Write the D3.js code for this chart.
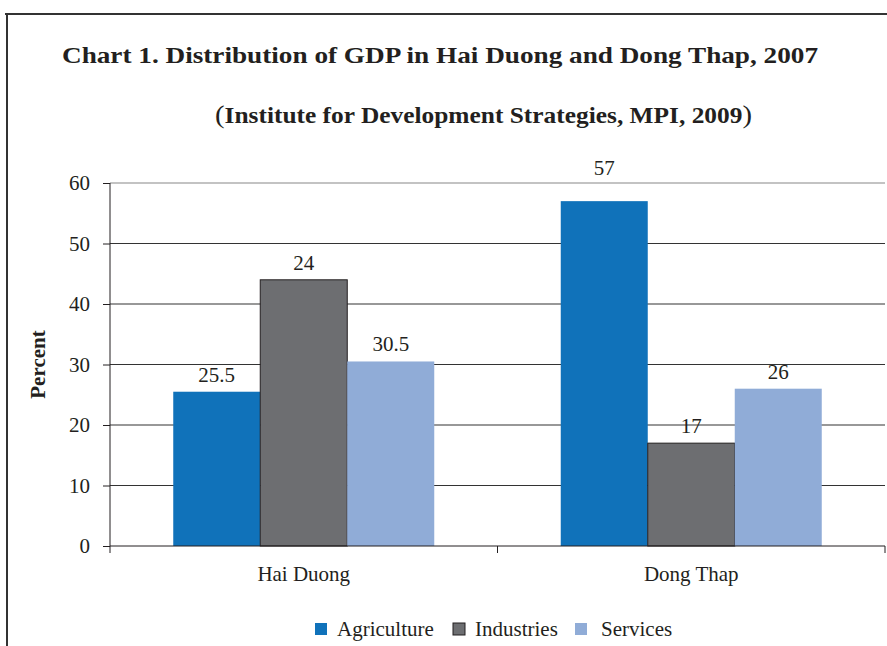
<!DOCTYPE html>
<html>
<head>
<meta charset="utf-8">
<script src="https://cdn.jsdelivr.net/npm/d3@7"></script>
<style>
  html, body { margin: 0; padding: 0; background: #fff; }
  svg { display: block; }
</style>
</head>
<body>
<svg id="chart"></svg>
<script>
const categories = ['Hai Duong', 'Dong Thap'];
const seriesNames = ['Agriculture', 'Industries', 'Services'];
const agriculture = [25.5, 57];
const industries = [44, 17];
const services = [30.5, 26];
// data labels as printed on the original (Hai Duong industries reads 24)
const agricultureLabels = ['25.5', '57'];
const industriesLabels = ['24', '17'];
const servicesLabels = ['30.5', '26'];
const yTicks = [0, 10, 20, 30, 40, 50, 60];

const colors = ['#1072ba', '#6d6e71', '#90acd7'];
const serif = 'Liberation Serif';
const ink = '#231f20';

const width = 887;
const height = 646;
const plot = { left: 110, right: 885, top: 183, bottom: 546 };

const svg = d3.select('#chart')
  .attr('width', width)
  .attr('height', height)
  .attr('font-family', serif);

// frame
svg.append('line')
  .attr('x1', 5).attr('x2', width).attr('y1', 14).attr('y2', 14)
  .attr('stroke', '#333').attr('stroke-width', 2);
svg.append('line')
  .attr('x1', 7).attr('x2', 7).attr('y1', 14).attr('y2', height)
  .attr('stroke', '#333').attr('stroke-width', 2);

// titles
svg.append('text')
  .attr('x', 62).attr('y', 63)
  .attr('font-family', serif)
  .attr('font-size', 24).attr('font-weight', 'bold').attr('fill', ink)
  .attr('textLength', 756).attr('lengthAdjust', 'spacingAndGlyphs')
  .text('Chart 1. Distribution of GDP in Hai Duong and Dong Thap, 2007');

const sub = svg.append('text')
  .attr('x', 215).attr('y', 123)
  .attr('font-family', serif)
  .attr('font-size', 23).attr('fill', ink)
  .attr('textLength', 537).attr('lengthAdjust', 'spacingAndGlyphs');
sub.append('tspan').attr('font-size', 26).text('(');
sub.append('tspan').attr('font-weight', 'bold').text('Institute for Development Strategies, MPI, 2009');
sub.append('tspan').attr('font-size', 26).text(')');

const x0 = d3.scaleBand()
  .domain(categories)
  .range([plot.left, plot.right]);

const x1 = d3.scaleBand()
  .domain(seriesNames)
  .range([0, x0.bandwidth()])
  .paddingOuter(0.727);

const y = d3.scaleLinear()
  .domain([0, 60])
  .range([plot.bottom, plot.top]);

// gridlines
svg.append('g')
  .selectAll('line')
  .data(yTicks.filter(d => d > 0))
  .join('line')
  .attr('x1', plot.left).attr('x2', plot.right)
  .attr('y1', d => y(d)).attr('y2', d => y(d))
  .attr('stroke', d => d === 60 ? '#888' : '#333')
  .attr('stroke-width', 1.2);

const rows = categories.map((c, i) => ({
  category: c,
  values: [
    { series: 'Agriculture', value: agriculture[i], label: agricultureLabels[i] },
    { series: 'Industries', value: industries[i], label: industriesLabels[i] },
    { series: 'Services', value: services[i], label: servicesLabels[i] }
  ]
}));

const color = d3.scaleOrdinal().domain(seriesNames).range(colors);

const groups = svg.append('g')
  .selectAll('g')
  .data(rows)
  .join('g')
  .attr('transform', d => `translate(${x0(d.category)},0)`);

groups.selectAll('rect')
  .data(d => d.values)
  .join('rect')
  .attr('x', d => x1(d.series))
  .attr('y', d => y(d.value))
  .attr('width', x1.bandwidth())
  .attr('height', d => y(0) - y(d.value))
  .attr('fill', d => color(d.series))
  .attr('stroke', d => d.series === 'Industries' ? ink : 'none')
  .attr('stroke-width', 1);

groups.selectAll('text')
  .data(d => d.values)
  .join('text')
  .attr('x', d => x1(d.series) + x1.bandwidth() / 2)
  .attr('y', d => y(d.value) - (d.value > 55 ? 26 : 10))
  .attr('text-anchor', 'middle')
  .attr('font-family', serif)
  .attr('font-size', 21)
  .attr('fill', ink)
  .text(d => d.label);

// y axis
const yAxis = svg.append('g')
  .attr('transform', `translate(${plot.left},0)`)
  .call(d3.axisLeft(y).tickValues(yTicks).tickSize(7).tickPadding(13));
yAxis.attr('font-family', serif);
yAxis.select('.domain').remove();
yAxis.selectAll('.tick line').attr('stroke', ink);
yAxis.selectAll('.tick text')
  .attr('font-family', serif)
  .attr('font-size', 21)
  .attr('fill', ink);
svg.append('line')
  .attr('x1', plot.left).attr('x2', plot.left)
  .attr('y1', plot.top).attr('y2', plot.bottom + 7)
  .attr('stroke', ink).attr('stroke-width', 1);

// x axis
svg.append('line')
  .attr('x1', plot.left).attr('x2', plot.right)
  .attr('y1', plot.bottom).attr('y2', plot.bottom)
  .attr('stroke', ink).attr('stroke-width', 1);
svg.append('g')
  .selectAll('line')
  .data(categories)
  .join('line')
  .attr('x1', d => x0(d) + x0.bandwidth())
  .attr('x2', d => x0(d) + x0.bandwidth())
  .attr('y1', plot.bottom).attr('y2', plot.bottom + 7)
  .attr('stroke', ink);
svg.append('g')
  .selectAll('text')
  .data(categories)
  .join('text')
  .attr('x', d => x0(d) + x0.bandwidth() / 2)
  .attr('y', 581)
  .attr('text-anchor', 'middle')
  .attr('font-family', serif)
  .attr('font-size', 21)
  .attr('fill', ink)
  .text(d => d);

// y label
svg.append('text')
  .attr('transform', `translate(45,${(plot.top + plot.bottom) / 2}) rotate(-90)`)
  .attr('text-anchor', 'middle')
  .attr('font-family', serif)
  .attr('font-size', 21).attr('font-weight', 'bold').attr('fill', ink)
  .text('Percent');

// legend
const legendX = [315, 453, 575];
const legendTextX = [337, 475, 601];
const legend = svg.append('g')
  .selectAll('g')
  .data(seriesNames)
  .join('g');
legend.append('rect')
  .attr('x', (d, i) => legendX[i])
  .attr('y', 623)
  .attr('width', 12).attr('height', 12)
  .attr('fill', d => color(d))
  .attr('stroke', d => d === 'Industries' ? ink : 'none');
legend.append('text')
  .attr('x', (d, i) => legendTextX[i])
  .attr('y', 636)
  .attr('font-family', serif)
  .attr('font-size', 21)
  .attr('fill', ink)
  .text(d => d);
</script>
</body>
</html>
